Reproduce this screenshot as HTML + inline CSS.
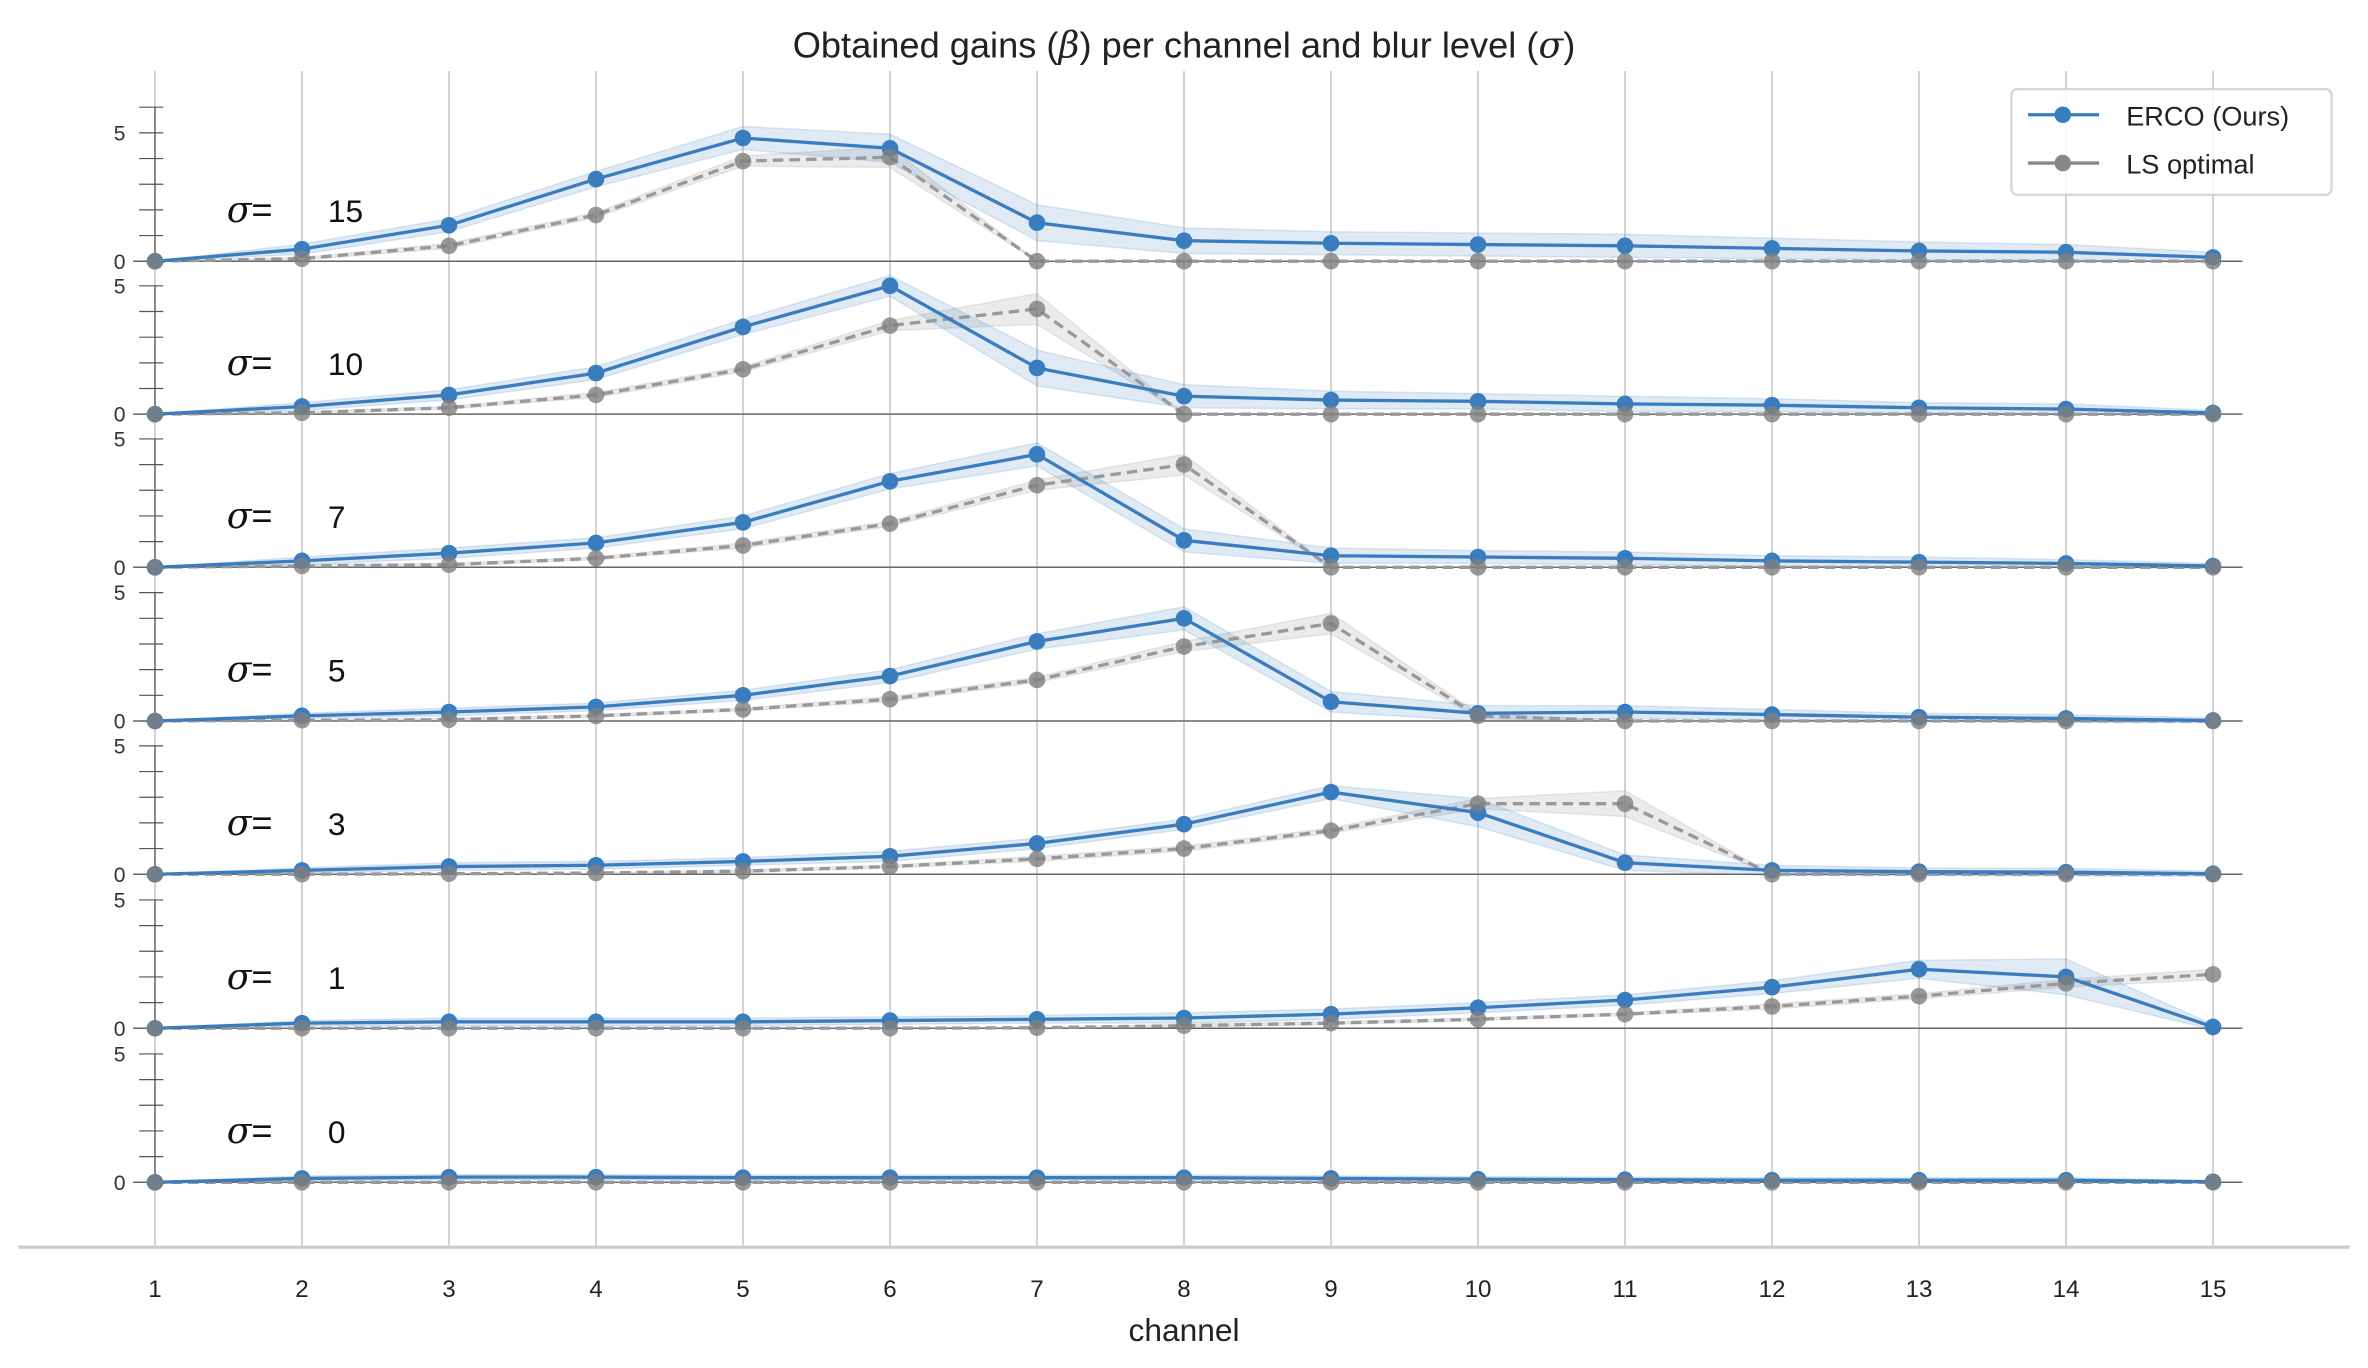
<!DOCTYPE html>
<html><head><meta charset="utf-8"><style>
html,body{margin:0;padding:0;background:#fff;}
svg{display:block;font-family:"Liberation Sans",sans-serif;}
</style></head><body>
<svg id="chart" width="2368" height="1368" viewBox="0 0 1568 906" xmlns="http://www.w3.org/2000/svg">
<text x="784" y="38" text-anchor="middle" font-size="24" fill="#222">Obtained gains (<tspan font-style="italic" font-family="DejaVu Serif, serif">β</tspan>) per channel and blur level (<tspan font-style="italic" font-family="DejaVu Serif, serif">σ</tspan>)</text>
<g id="grid"></g>
<g id="panels"></g>
<line x1="12" y1="826" x2="1556" y2="826" stroke="#cccccc" stroke-width="2.2"/>
<g id="xticks"></g>
<text x="784" y="888" text-anchor="middle" font-size="21" fill="#222">channel</text>
<g>
<rect x="1332" y="59" width="212" height="70" rx="4" fill="#fff" fill-opacity="0.85" stroke="#d5d5d5" stroke-width="1.5"/>
<line x1="1343" y1="76" x2="1390" y2="76" stroke="#3a7dbf" stroke-width="2.2"/>
<circle cx="1366" cy="76" r="5.5" fill="#3a7dbf"/>
<text x="1408" y="83" font-size="18" fill="#222">ERCO (Ours)</text>
<line x1="1343" y1="108" x2="1390" y2="108" stroke="#888" stroke-width="2.2"/>
<circle cx="1366" cy="108" r="5.5" fill="#888"/>
<text x="1408" y="115" font-size="18" fill="#222">LS optimal</text>
</g>
</svg>
<script>
const channels=[1,2,3,4,5,6,7,8,9,10,11,12,13,14,15];
const sigmas=[15,10,7,5,3,1,0];
const ercoValues=[
[0,0.47,1.4,3.2,4.8,4.4,1.5,0.8,0.7,0.65,0.6,0.5,0.4,0.35,0.15],
[0,0.3,0.75,1.6,3.4,5.0,1.8,0.7,0.55,0.5,0.4,0.35,0.25,0.2,0.05],
[0,0.25,0.55,0.95,1.75,3.35,4.4,1.05,0.45,0.4,0.35,0.25,0.2,0.15,0.05],
[0,0.2,0.35,0.55,1.0,1.75,3.1,4.0,0.75,0.3,0.35,0.25,0.15,0.1,0.02],
[0,0.15,0.3,0.35,0.5,0.7,1.2,1.95,3.2,2.4,0.45,0.15,0.1,0.08,0.02],
[0,0.2,0.25,0.25,0.25,0.3,0.35,0.4,0.55,0.8,1.1,1.6,2.3,2.0,0.05],
[0,0.15,0.2,0.2,0.18,0.18,0.18,0.18,0.15,0.12,0.1,0.08,0.08,0.08,0.02]];
const ercoErr=[
[0,0.2,0.25,0.3,0.45,0.55,0.7,0.5,0.45,0.45,0.45,0.4,0.35,0.3,0.2],
[0,0.15,0.2,0.25,0.3,0.4,0.7,0.45,0.35,0.3,0.3,0.25,0.2,0.2,0.1],
[0,0.15,0.2,0.2,0.25,0.3,0.45,0.45,0.3,0.25,0.25,0.2,0.2,0.15,0.1],
[0,0.1,0.15,0.15,0.2,0.25,0.3,0.45,0.4,0.3,0.25,0.2,0.15,0.15,0.1],
[0,0.1,0.15,0.15,0.15,0.2,0.2,0.2,0.25,0.55,0.3,0.2,0.15,0.15,0.1],
[0,0.1,0.15,0.15,0.15,0.15,0.15,0.2,0.2,0.2,0.2,0.25,0.35,0.7,0.1],
[0,0.1,0.1,0.1,0.1,0.1,0.1,0.1,0.1,0.1,0.1,0.1,0.1,0.1,0.05]];
const lsValues=[
[0,0.1,0.6,1.8,3.9,4.05,0,0,0,0,0,0,0,0,0],
[0,0.05,0.25,0.75,1.75,3.45,4.1,0,0,0,0,0,0,0,0],
[0,0.05,0.1,0.35,0.85,1.7,3.2,4.0,0,0,0,0,0,0,0],
[0,0.03,0.05,0.2,0.45,0.85,1.6,2.9,3.8,0.2,0,0,0,0,0],
[0,0,0.02,0.05,0.12,0.3,0.6,1.0,1.7,2.75,2.75,0,0,0,0],
[0,0,0,0,0,0,0.02,0.1,0.2,0.35,0.55,0.85,1.25,1.75,2.1],
[0,0,0,0,0,0,0,0,0,0,0,0,0,0,0]];
const lsErr=[
[0,0.05,0.1,0.1,0.2,0.4,0,0,0,0,0,0,0,0,0],
[0,0.05,0.05,0.1,0.1,0.2,0.6,0,0,0,0,0,0,0,0],
[0,0.05,0.05,0.05,0.1,0.1,0.2,0.4,0,0,0,0,0,0,0],
[0,0,0.05,0.05,0.05,0.1,0.1,0.2,0.4,0.1,0,0,0,0,0],
[0,0,0,0,0.05,0.05,0.1,0.1,0.1,0.2,0.5,0,0,0,0],
[0,0,0,0,0,0,0,0.05,0.05,0.05,0.05,0.1,0.1,0.15,0.2],
[0,0,0,0,0,0,0,0,0,0,0,0,0,0,0]];
const yTickLabels=["0","5"];

const NS="http://www.w3.org/2000/svg";
const X0=102.5, DX=(1465.5-102.5)/14;
const zeroYs=[173,274.3,375.7,477.5,579,681,783];
const UNIT=17;
function xs(c){return X0+(c-1)*DX;}
function ys(p,v){return zeroYs[p]-v*UNIT;}
function mk(tag,attrs,parent){const e=document.createElementNS(NS,tag);for(const k in attrs)e.setAttribute(k,attrs[k]);parent.appendChild(e);return e;}
const grid=document.getElementById('grid'),panels=document.getElementById('panels'),xt=document.getElementById('xticks');
channels.forEach(c=>{
  const l=mk('line',{x1:xs(c),x2:xs(c),y1:47,y2:826,stroke:'#cfcfcf','stroke-width':1.2},grid);
  
  
  const t=mk('text',{x:xs(c),y:859,'text-anchor':'middle','font-size':16,fill:'#222'},xt);
  t.textContent=c;
  
  
});
sigmas.forEach((s,p)=>{
  const g=mk('g',{},panels);
  
  
  for(let k=0;k<=6;k++){const y=ys(p,k); if(p>0 && k>5) continue;
    mk('line',{x1:92,x2:108,y1:y,y2:y,stroke:'#555','stroke-width':0.8},g);}
  mk('line',{x1:102.5,x2:102.5,y1:ys(p,p===0?6:5),y2:zeroYs[p],stroke:'#555','stroke-width':0.8},g);
  yTickLabels.forEach(lb=>{const t=mk('text',{x:83,y:ys(p,+lb)+5,'text-anchor':'end','font-size':14,fill:'#333'},g);t.textContent=lb;
    
    });
  mk('line',{x1:88,x2:1485,y1:zeroYs[p],y2:zeroYs[p],stroke:'#666','stroke-width':1},g);
  const lab=mk('text',{x:150,y:zeroYs[p]-26,'font-size':24,fill:'#111'},g);
  lab.innerHTML='<tspan font-style="italic" font-family="DejaVu Serif, serif">σ</tspan>=';
  
  
  const n=mk('text',{x:217,y:zeroYs[p]-26,'font-size':21,fill:'#111'},g);n.textContent=s;
  
  
  function band(vals,err,fill,op){
    let up=channels.map((c,i)=>xs(c)+','+ys(p,vals[i]+err[i]));
    let dn=channels.map((c,i)=>xs(c)+','+ys(p,vals[i]-err[i])).reverse();
    return mk('polygon',{points:up.concat(dn).join(' '),fill:fill,'fill-opacity':op,stroke:fill,'stroke-opacity':op,'stroke-width':1},g);
  }
  const lb=band(lsValues[p],lsErr[p],'#999',0.2);
  
  
  const eb=band(ercoValues[p],ercoErr[p],'#3a7dbf',0.16);
  
  
  const lpts=channels.map((c,i)=>xs(c)+','+ys(p,lsValues[p][i])).join(' ');
  const ll=mk('polyline',{points:lpts,fill:'none',stroke:'#999','stroke-width':2.2,'stroke-dasharray':'7,4'},g);
  
  
  const epts=channels.map((c,i)=>xs(c)+','+ys(p,ercoValues[p][i])).join(' ');
  const el=mk('polyline',{points:epts,fill:'none',stroke:'#3a7dbf','stroke-width':2.2},g);
  
  
  channels.forEach((c,i)=>{
    const a=mk('circle',{cx:xs(c),cy:ys(p,ercoValues[p][i]),r:5.5,fill:'#3a7dbf'},g);
    
    
  });
  channels.forEach((c,i)=>{
    const b=mk('circle',{cx:xs(c),cy:ys(p,lsValues[p][i]),r:5.5,fill:'#808080','fill-opacity':0.8},g);
    
    
  });
});
</script>
</body></html>
